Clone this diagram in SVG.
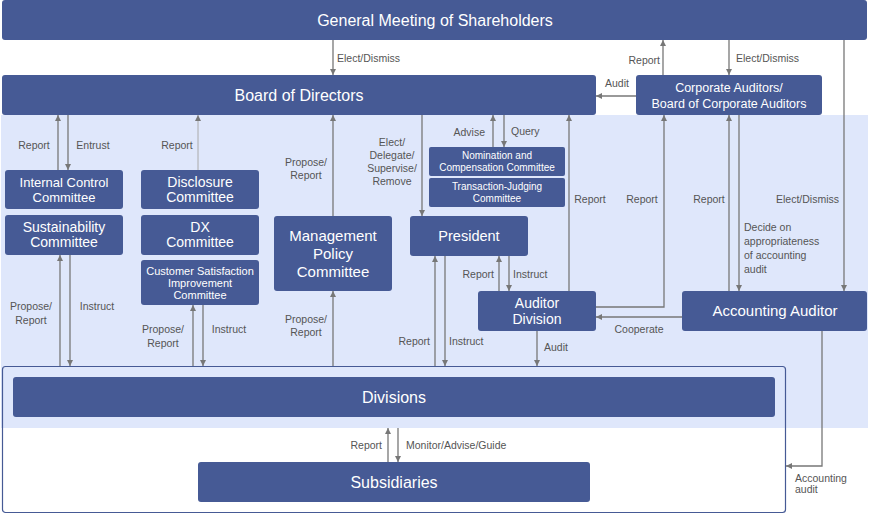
<svg xmlns="http://www.w3.org/2000/svg" width="870" height="516" viewBox="0 0 870 516">
<defs>
<style>
.box{fill:#465a95;}
.bt{fill:#fff;font-family:"Liberation Sans",Arial,sans-serif;text-anchor:middle;}
.lb{fill:#555;font-family:"Liberation Sans",Arial,sans-serif;font-size:10.5px;}
.c{stroke:#777;stroke-width:1.3;fill:none;marker-end:url(#ah);}
.m{text-anchor:middle;}
.e{text-anchor:end;}
</style>
<marker id="ah" viewBox="0 0 10 10" refX="10" refY="5" markerWidth="6" markerHeight="9" markerUnits="userSpaceOnUse" orient="auto">
<path d="M0,0 L10,5 L0,10 z" fill="#777"/>
</marker>
</defs>
<rect x="0" y="0" width="870" height="516" fill="#fff"/>
<rect x="1" y="115" width="867" height="313" fill="#dfe7fb"/>
<rect x="2.5" y="366.5" width="783" height="146" rx="3" fill="none" stroke="#465a95" stroke-width="1.2"/>

<g id="connectors">
<path class="c" d="M333,40 V75"/>
<path class="c" d="M663,75 V40"/>
<path class="c" d="M729,40 V75"/>
<path class="c" d="M636,96 H596"/>
<path class="c" d="M844,40 V291"/>
<path class="c" d="M58,170 V115"/>
<path class="c" d="M68,115 V170"/>
<path class="c" d="M198,170 V115" style="stroke:#aaa;stroke-width:1"/>
<path class="c" d="M333,216 V115"/>
<path class="c" d="M422,115 V216"/>
<path class="c" d="M493,147 V115"/>
<path class="c" d="M504,115 V147"/>
<path class="c" d="M569,291 V115"/>
<path class="c" d="M596,307 H664 V115"/>
<path class="c" d="M729,291 V115"/>
<path class="c" d="M739,115 V291"/>
<path class="c" d="M682,317 H596"/>
<path class="c" d="M60,366 V255"/>
<path class="c" d="M70,255 V366"/>
<path class="c" d="M193,366 V305"/>
<path class="c" d="M203,305 V366"/>
<path class="c" d="M333,366 V291"/>
<path class="c" d="M435,366 V256"/>
<path class="c" d="M445,256 V366"/>
<path class="c" d="M499,291 V256"/>
<path class="c" d="M509,256 V291"/>
<path class="c" d="M537,331 V366"/>
<path class="c" d="M388,462 V428"/>
<path class="c" d="M398,428 V462"/>
<path class="c" d="M822,331 V466 H786"/>
</g>

<g id="labels">
<text class="lb" x="337" y="62">Elect/Dismiss</text>
<text class="lb e" x="660" y="64">Report</text>
<text class="lb" x="736" y="62">Elect/Dismiss</text>
<text class="lb" x="605" y="87">Audit</text>
<text class="lb m" x="34" y="149">Report</text>
<text class="lb m" x="93" y="149">Entrust</text>
<text class="lb m" x="177" y="149">Report</text>
<text class="lb m" x="306" y="166">Propose/</text>
<text class="lb m" x="306" y="179">Report</text>
<text class="lb m" x="392" y="146">Elect/</text>
<text class="lb m" x="392" y="159">Delegate/</text>
<text class="lb m" x="392" y="172">Supervise/</text>
<text class="lb m" x="392" y="185">Remove</text>
<text class="lb e" x="485" y="136">Advise</text>
<text class="lb" x="511" y="135">Query</text>
<text class="lb m" x="590" y="203">Report</text>
<text class="lb m" x="642" y="203">Report</text>
<text class="lb m" x="709" y="203">Report</text>
<text class="lb e" x="839" y="203">Elect/Dismiss</text>
<text class="lb" x="744" y="231">Decide on</text>
<text class="lb" x="744" y="245">appropriateness</text>
<text class="lb" x="744" y="259">of accounting</text>
<text class="lb" x="744" y="273">audit</text>
<text class="lb e" x="494" y="278">Report</text>
<text class="lb" x="513" y="278">Instruct</text>
<text class="lb m" x="639" y="333">Cooperate</text>
<text class="lb m" x="31" y="310">Propose/</text>
<text class="lb m" x="31" y="324">Report</text>
<text class="lb m" x="97" y="310">Instruct</text>
<text class="lb m" x="163" y="333">Propose/</text>
<text class="lb m" x="163" y="347">Report</text>
<text class="lb m" x="229" y="333">Instruct</text>
<text class="lb m" x="306" y="323">Propose/</text>
<text class="lb m" x="306" y="336">Report</text>
<text class="lb e" x="430" y="345">Report</text>
<text class="lb" x="449" y="345">Instruct</text>
<text class="lb" x="544" y="351">Audit</text>
<text class="lb e" x="382" y="449">Report</text>
<text class="lb" x="406" y="449">Monitor/Advise/Guide</text>
<text class="lb" x="795" y="482">Accounting</text>
<text class="lb" x="795" y="493">audit</text>
</g>

<g id="gms"><rect class="box" x="2" y="0" width="865" height="40" rx="3"/><text class="bt" x="435" y="26" font-size="16">General Meeting of Shareholders</text></g>
<g id="bod"><rect class="box" x="2" y="75" width="594" height="40" rx="3"/><text class="bt" x="299" y="101" font-size="16">Board of Directors</text></g>
<g id="corpaud"><rect class="box" x="636" y="75" width="186" height="40" rx="3"/><text class="bt" x="729" y="92" font-size="12.5">Corporate Auditors/</text><text class="bt" x="729" y="108" font-size="12.5">Board of Corporate Auditors</text></g>
<g id="icc"><rect class="box" x="5" y="170" width="118" height="39" rx="3"/><text class="bt" x="64" y="187" font-size="13">Internal Control</text><text class="bt" x="64" y="202" font-size="13">Committee</text></g>
<g id="sus"><rect class="box" x="5" y="215" width="118" height="40" rx="3"/><text class="bt" x="64" y="232" font-size="14">Sustainability</text><text class="bt" x="64" y="247" font-size="14">Committee</text></g>
<g id="disc"><rect class="box" x="141" y="170" width="118" height="39" rx="3"/><text class="bt" x="200" y="187" font-size="14">Disclosure</text><text class="bt" x="200" y="202" font-size="14">Committee</text></g>
<g id="dx"><rect class="box" x="141" y="215" width="118" height="40" rx="3"/><text class="bt" x="200" y="232" font-size="14">DX</text><text class="bt" x="200" y="247" font-size="14">Committee</text></g>
<g id="csi"><rect class="box" x="141" y="260" width="118" height="45" rx="3"/><text class="bt" x="200" y="275" font-size="11">Customer Satisfaction</text><text class="bt" x="200" y="287" font-size="11">Improvement</text><text class="bt" x="200" y="299" font-size="11">Committee</text></g>
<g id="mpc"><rect class="box" x="274" y="216" width="118" height="75" rx="3"/><text class="bt" x="333" y="241" font-size="15">Management</text><text class="bt" x="333" y="259" font-size="15">Policy</text><text class="bt" x="333" y="277" font-size="15">Committee</text></g>
<g id="nom"><rect class="box" x="429" y="147" width="136" height="29" rx="2"/><text class="bt" x="497" y="159" font-size="10">Nomination  and</text><text class="bt" x="497" y="171" font-size="10">Compensation Committee</text></g>
<g id="tjc"><rect class="box" x="429" y="178" width="136" height="29" rx="2"/><text class="bt" x="497" y="190" font-size="10">Transaction-Judging</text><text class="bt" x="497" y="202" font-size="10">Committee</text></g>
<g id="pres"><rect class="box" x="410" y="216" width="118" height="40" rx="3"/><text class="bt" x="469" y="241" font-size="14.5">President</text></g>
<g id="auddiv"><rect class="box" x="478" y="291" width="118" height="40" rx="3"/><text class="bt" x="537" y="308" font-size="14">Auditor</text><text class="bt" x="537" y="324" font-size="14">Division</text></g>
<g id="accaud"><rect class="box" x="682" y="291" width="185" height="40" rx="3"/><text class="bt" x="775" y="316" font-size="15">Accounting Auditor</text></g>
<g id="div"><rect class="box" x="13" y="377" width="762" height="40" rx="3"/><text class="bt" x="394" y="403" font-size="16">Divisions</text></g>
<g id="subs"><rect class="box" x="198" y="462" width="392" height="40" rx="3"/><text class="bt" x="394" y="488" font-size="16">Subsidiaries</text></g>
</svg>
